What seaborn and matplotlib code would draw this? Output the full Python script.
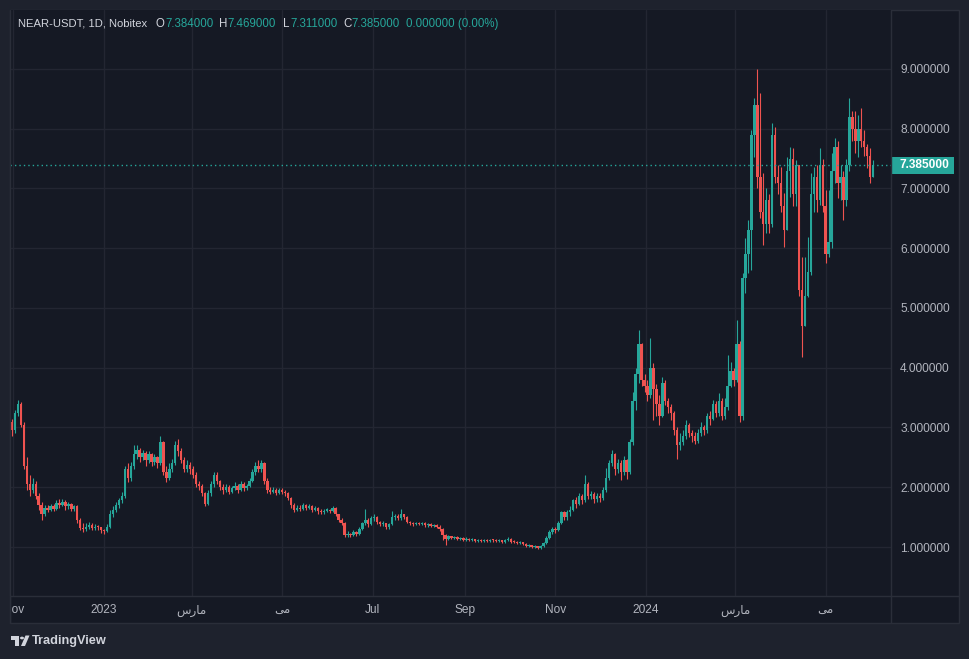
import numpy as np
import pandas as pd
import matplotlib
matplotlib.use("Agg")
import matplotlib.pyplot as plt
import matplotlib.dates as mdates
import matplotlib.transforms as mtrans
from matplotlib.patches import Rectangle, Circle, Polygon
from matplotlib.lines import Line2D
from matplotlib import font_manager
from matplotlib.ft2font import FT2Font
import seaborn as sns

# ---------------- data (2-day candles, NEAR-USDT) ----------------
start_date = "2022-10-29"
first_open = 3.15

closes = [
    3.10, 2.95, 3.25, 3.40, 3.05, 2.35, 2.05, 1.95, 2.05, 1.85,
    1.70, 1.55, 1.65, 1.62, 1.68, 1.64, 1.74, 1.70, 1.76, 1.68,
    1.72, 1.64, 1.68, 1.45, 1.32, 1.30, 1.34, 1.36, 1.32, 1.34, 1.33,
    1.28, 1.26, 1.34, 1.55, 1.62, 1.70, 1.78, 1.85, 2.30, 2.15,
    2.35, 2.55, 2.62, 2.50, 2.58, 2.45, 2.55, 2.42, 2.50, 2.40,
    2.75, 2.25, 2.15, 2.30, 2.40, 2.70, 2.60, 2.45, 2.30, 2.38,
    2.30, 2.20, 2.05, 2.02, 1.90, 1.72, 1.90, 2.05, 2.20, 2.10,
    2.00, 1.95, 2.00, 1.92, 1.98, 2.02, 1.95, 2.05, 1.98, 2.02,
    2.10, 2.25, 2.35, 2.30, 2.40, 2.10, 1.95, 1.92, 1.95, 1.90,
    1.95, 1.92, 1.90, 1.82, 1.70, 1.62, 1.66, 1.64, 1.70, 1.66,
    1.68, 1.62, 1.65, 1.60, 1.58, 1.61,
    1.62, 1.60, 1.66, 1.55, 1.45, 1.40, 1.20, 1.22, 1.20, 1.25,
    1.22, 1.30, 1.40, 1.45, 1.38, 1.48, 1.50, 1.42, 1.38, 1.40,
    1.33, 1.38, 1.50, 1.52, 1.48, 1.55, 1.50, 1.42, 1.40, 1.38,
    1.40, 1.38, 1.40, 1.36, 1.38, 1.35, 1.36, 1.34, 1.30, 1.20,
    1.14, 1.18, 1.15, 1.17, 1.13, 1.15, 1.12, 1.14, 1.12, 1.13,
    1.10, 1.12, 1.10, 1.12, 1.10, 1.12, 1.11,
    1.10, 1.11, 1.08, 1.12, 1.14, 1.09, 1.08, 1.07, 1.08, 1.05,
    1.02, 1.03, 1.00, 1.01, 0.98, 1.02, 1.06, 1.15, 1.25, 1.30,
    1.28, 1.40, 1.58, 1.50, 1.58, 1.62, 1.78, 1.72, 1.85, 1.78,
    2.05, 1.85, 1.88, 1.80, 1.85, 1.82, 1.95, 2.15, 2.40, 2.55,
    2.30, 2.40, 2.25, 2.45, 2.25, 2.75, 3.45, 3.90, 4.40, 3.80,
    3.70, 3.55, 4.00, 3.65, 3.40, 3.20, 3.75, 3.45, 3.35, 3.25,
    2.95, 2.70, 2.75, 2.85, 3.05, 2.90, 2.85, 2.78, 2.90, 3.00,
    2.95, 3.20, 3.15, 3.40, 3.25, 3.45, 3.20, 3.35, 3.70, 3.95,
    3.80, 4.40, 3.20, 5.50, 5.90, 6.30, 7.90, 8.40, 7.20, 6.60,
    6.40, 6.80, 6.40, 7.90, 7.20, 7.10, 6.70, 6.30, 7.30, 7.50,
    6.90, 7.40, 5.30, 4.70, 5.20, 5.60, 6.90, 7.20, 6.80, 7.40,
    6.70, 5.90, 6.10, 7.30, 7.70, 7.10, 7.20, 6.80, 7.40, 8.20,
    8.00, 7.80, 8.00, 7.80, 7.70, 7.55, 7.20, 7.385,
]

highs = [
    3.20, 3.15, 3.30, 3.46, 3.42, 3.10, 2.50, 2.20, 2.15, 2.10,
    1.90, 1.75, 1.70, 1.70, 1.72, 1.72, 1.78, 1.80, 1.80, 1.78,
    1.76, 1.74, 1.70, 1.70, 1.48, 1.40, 1.40, 1.42, 1.40, 1.38, 1.37,
    1.34, 1.30, 1.38, 1.62, 1.68, 1.75, 1.82, 1.92, 2.35, 2.40,
    2.42, 2.70, 2.70, 2.65, 2.62, 2.60, 2.60, 2.58, 2.55, 2.52,
    2.86, 2.78, 2.35, 2.40, 2.48, 2.78, 2.80, 2.65, 2.50, 2.45,
    2.42, 2.35, 2.25, 2.10, 2.05, 1.92, 1.95, 2.10, 2.25, 2.25,
    2.12, 2.05, 2.06, 2.03, 2.02, 2.08, 2.05, 2.10, 2.08, 2.06,
    2.16, 2.30, 2.42, 2.45, 2.45, 2.42, 2.15, 2.00, 2.00, 1.98,
    1.99, 1.98, 1.95, 1.92, 1.84, 1.74, 1.70, 1.70, 1.74, 1.72,
    1.72, 1.70, 1.68, 1.67, 1.63, 1.64,
    1.65, 1.64, 1.68, 1.67, 1.56, 1.48, 1.42, 1.26, 1.24, 1.28,
    1.27, 1.33, 1.42, 1.64, 1.48, 1.52, 1.55, 1.52, 1.44, 1.43,
    1.41, 1.40, 1.60, 1.56, 1.55, 1.64, 1.56, 1.52, 1.44, 1.42,
    1.42, 1.42, 1.42, 1.42, 1.40, 1.40, 1.39, 1.38, 1.36, 1.32,
    1.22, 1.20, 1.19, 1.19, 1.18, 1.17, 1.16, 1.16, 1.15, 1.15,
    1.14, 1.14, 1.13, 1.14, 1.13, 1.14, 1.13,
    1.13, 1.13, 1.12, 1.14, 1.17, 1.15, 1.11, 1.10, 1.10, 1.09,
    1.06, 1.05, 1.04, 1.03, 1.02, 1.04, 1.09, 1.18, 1.28, 1.34,
    1.33, 1.44, 1.60, 1.60, 1.62, 1.68, 1.80, 1.84, 1.90, 1.88,
    2.20, 2.08, 1.94, 1.92, 1.90, 1.90, 2.00, 2.32, 2.45, 2.62,
    2.58, 2.48, 2.45, 2.52, 2.48, 2.80, 3.60, 4.00, 4.63, 4.42,
    3.90, 3.80, 4.50, 4.08, 3.72, 3.55, 3.85, 3.80, 3.50, 3.40,
    3.28, 3.00, 2.90, 2.95, 3.13, 3.08, 2.96, 2.92, 2.98, 3.10,
    3.05, 3.24, 3.28, 3.46, 3.44, 3.58, 3.50, 3.50, 4.21, 4.10,
    4.00, 4.80, 4.45, 5.58, 6.17, 6.47, 7.98, 8.51, 9.00, 8.60,
    7.26, 7.00, 6.90, 8.10, 8.03, 7.40, 7.36, 6.92, 7.53, 7.70,
    7.68, 7.48, 7.40, 5.85, 5.85, 6.18, 7.26, 7.36, 7.40, 7.68,
    7.50, 6.97, 6.97, 7.60, 7.85, 7.80, 7.40, 7.30, 7.50, 8.51,
    8.30, 8.30, 8.23, 8.35, 7.98, 7.75, 7.68, 7.469,
]

lows = [
    3.05, 2.85, 2.90, 3.20, 3.00, 2.30, 1.95, 1.85, 1.90, 1.80,
    1.62, 1.45, 1.52, 1.58, 1.60, 1.60, 1.62, 1.66, 1.68, 1.62,
    1.64, 1.60, 1.60, 1.40, 1.28, 1.25, 1.27, 1.30, 1.28, 1.28, 1.28,
    1.24, 1.22, 1.25, 1.32, 1.50, 1.58, 1.66, 1.74, 1.82, 2.08,
    2.10, 2.30, 2.48, 2.42, 2.45, 2.35, 2.40, 2.35, 2.38, 2.32,
    2.38, 2.20, 2.08, 2.12, 2.25, 2.38, 2.52, 2.40, 2.25, 2.26,
    2.22, 2.15, 2.00, 1.96, 1.85, 1.69, 1.70, 1.86, 2.00, 2.05,
    1.95, 1.88, 1.92, 1.88, 1.90, 1.95, 1.90, 1.93, 1.94, 1.95,
    2.00, 2.08, 2.20, 2.26, 2.25, 2.05, 1.90, 1.88, 1.90, 1.87,
    1.88, 1.88, 1.86, 1.78, 1.66, 1.58, 1.60, 1.60, 1.62, 1.62,
    1.63, 1.58, 1.60, 1.56, 1.55, 1.56,
    1.58, 1.57, 1.58, 1.52, 1.42, 1.36, 1.16, 1.17, 1.17, 1.18,
    1.19, 1.20, 1.28, 1.36, 1.34, 1.36, 1.44, 1.38, 1.35, 1.35,
    1.30, 1.30, 1.36, 1.46, 1.45, 1.46, 1.47, 1.40, 1.37, 1.35,
    1.36, 1.36, 1.36, 1.34, 1.34, 1.33, 1.33, 1.31, 1.27, 1.12,
    1.03, 1.12, 1.13, 1.14, 1.11, 1.11, 1.10, 1.10, 1.10, 1.10,
    1.08, 1.09, 1.08, 1.09, 1.08, 1.09, 1.09,
    1.08, 1.08, 1.06, 1.07, 1.10, 1.07, 1.06, 1.05, 1.05, 1.03,
    1.00, 1.00, 0.98, 0.98, 0.96, 0.97, 1.00, 1.05, 1.13, 1.22,
    1.24, 1.26, 1.38, 1.45, 1.46, 1.52, 1.60, 1.66, 1.70, 1.72,
    1.76, 1.80, 1.80, 1.74, 1.76, 1.76, 1.78, 1.92, 2.12, 2.35,
    2.20, 2.24, 2.12, 2.20, 2.14, 2.22, 2.70, 3.30, 3.75, 3.70,
    3.60, 3.45, 3.50, 3.13, 3.20, 3.04, 3.18, 3.38, 3.25, 3.12,
    2.88, 2.47, 2.62, 2.70, 2.80, 2.84, 2.75, 2.72, 2.74, 2.86,
    2.87, 2.90, 3.05, 3.12, 3.18, 3.20, 3.13, 3.15, 3.30, 3.68,
    3.70, 3.76, 3.10, 3.13, 5.25, 5.58, 5.63, 7.53, 7.00, 6.50,
    6.05, 6.25, 6.25, 6.35, 7.10, 6.90, 6.60, 6.02, 6.30, 6.86,
    6.70, 6.70, 5.20, 4.18, 4.80, 5.18, 5.55, 6.60, 6.60, 6.73,
    6.60, 5.75, 5.85, 6.00, 7.10, 6.84, 6.80, 6.47, 6.70, 7.30,
    7.80, 7.60, 7.53, 7.70, 7.55, 7.35, 7.10, 7.311,
]

tick_dates = ["2022-11-01", "2023-01-01", "2023-03-01", "2023-05-01", "2023-07-01",
              "2023-09-01", "2023-11-01", "2024-01-01", "2024-03-01", "2024-05-01"]
tick_labels = ["Nov", "2023", "مارس", "می", "Jul", "Sep", "Nov", "2024", "مارس", "می"]
price_ticks = [1, 2, 3, 4, 5, 6, 7, 8, 9]

symbol_title = "NEAR-USDT, 1D, Nobitex"
last_open, last_high, last_low, last_close = 7.384, 7.469, 7.311, 7.385
last_change, last_change_pct = 0.0, 0.0

# ---------------- style ----------------
OUTER = "#1e222d"
PANEL = "#151924"
GRID = "#232632"
BORDER = "#2a2e39"
TEXT = "#b2b5be"
HEAD = "#d1d4dc"
UP = "#26a69a"
DOWN = "#ef5350"

sns.set_theme(style="dark", rc={"axes.facecolor": PANEL, "figure.facecolor": OUTER})
plt.rcParams["font.family"] = ["Liberation Sans", "DejaVu Sans"]


def has_glyph(family, code):
    try:
        path = font_manager.findfont(family)
        return FT2Font(path).get_char_index(code) != 0
    except Exception:
        return False


# minimal Arabic-script shaping for matplotlib (which has no text shaper)
yeh_forms = ("\uFBFC", "\uFBFD", "\uFBFE", "\uFBFF")
if not has_glyph("DejaVu Sans", 0xFBFD):
    yeh_forms = ("\uFEEF", "\uFEF0", "\uFEF3", "\uFEF4")
FORMS = {
    "م": ("\uFEE1", "\uFEE2", "\uFEE3", "\uFEE4", True),
    "ا": ("\uFE8D", "\uFE8E", None, None, False),
    "ر": ("\uFEAD", "\uFEAE", None, None, False),
    "س": ("\uFEB1", "\uFEB2", "\uFEB3", "\uFEB4", True),
    "ی": yeh_forms + (True,),
}


def shape(s):
    if not any(ch in FORMS for ch in s):
        return s
    out = []
    for i, ch in enumerate(s):
        if ch not in FORMS:
            out.append(ch)
            continue
        iso, fin, ini, med, dual = FORMS[ch]
        jp = i > 0 and s[i - 1] in FORMS and FORMS[s[i - 1]][4]
        jn = dual and i + 1 < len(s) and s[i + 1] in FORMS
        if jp and jn:
            out.append(med)
        elif jp:
            out.append(fin)
        elif jn:
            out.append(ini)
        else:
            out.append(iso)
    return "".join(out[::-1])


W, H = 970, 659
fig = plt.figure(figsize=(W / 100, H / 100), dpi=100, facecolor=OUTER)


def fx(px):
    return px / W


def fy(py):
    return 1 - py / H


# panel background
fig.add_artist(Rectangle((fx(10), fy(623)), fx(959) - fx(10), fy(10) - fy(623),
                         transform=fig.transFigure, facecolor=PANEL, edgecolor=BORDER,
                         lw=1, zorder=-5))

ax = fig.add_axes([fx(10), fy(596), fx(891) - fx(10), fy(10) - fy(596)])
ax.set_facecolor(PANEL)

# candles
dates = pd.date_range(start_date, periods=len(closes), freq="2D")
xs = mdates.date2num(dates.to_pydatetime())
c = np.array(closes)
o = np.concatenate([[first_open], c[:-1]])
hi = np.maximum(np.array(highs), np.maximum(o, c))
lo = np.minimum(np.array(lows), np.minimum(o, c))
cols = np.where(c >= o, UP, DOWN)

ax.vlines(xs, lo, hi, colors=cols, lw=0.8, zorder=3)
body_h = np.maximum(np.abs(c - o), 0.018)
ax.bar(xs, body_h, bottom=np.minimum(o, c), width=1.6, color=cols, lw=0, zorder=4)

# last price dotted line
ax.axhline(last_close, color=UP, lw=1, ls=(0, (1, 2.2)), zorder=5)

# axes limits / ticks
ref = mdates.date2num(pd.Timestamp("2023-01-01").to_pydatetime())
ax.set_xlim(ref - 63.3, ref + 530.0)
ax.set_ylim(0.180, 9.987)

tick_x = mdates.date2num(pd.to_datetime(tick_dates).to_pydatetime())
ax.set_xticks(tick_x)
ax.set_xticklabels([shape(t) for t in tick_labels])
for lbl, raw in zip(ax.get_xticklabels(), tick_labels):
    if raw != shape(raw):
        lbl.set_fontfamily(["DejaVu Sans"])
        lbl.set_fontsize(8.2)
ax.yaxis.tick_right()
ax.set_yticks(price_ticks)
ax.set_yticklabels([f"{v:.6f}" for v in price_ticks])
ax.tick_params(axis="x", length=0, pad=5.5, colors=TEXT, labelsize=8.6)
ax.tick_params(axis="y", length=0, pad=6.6, colors=TEXT, labelsize=8.6)
ax.grid(True, color=GRID, lw=1)
ax.set_axisbelow(True)
for sp in ax.spines.values():
    sp.set_visible(False)

# last price label box on the price scale
bt = mtrans.blended_transform_factory(ax.transAxes, ax.transData)
half = 8.5 / 59.75
ax.add_patch(Rectangle((1.0, last_close - half), (954 - 891) / (891 - 10), 2 * half,
                       transform=bt, facecolor=UP, edgecolor="none", clip_on=False, zorder=6))
ax.text(1.0 + 9 / 881, last_close, f"{last_close:.6f}", transform=bt, ha="left", va="center",
        color="white", fontsize=8.6, fontweight="bold", clip_on=False, zorder=7)

# separators
fig.add_artist(Line2D([fx(891), fx(891)], [fy(10), fy(623)], color=BORDER, lw=1, zorder=6))
fig.add_artist(Line2D([fx(10), fx(959)], [fy(596), fy(596)], color=BORDER, lw=1, zorder=6))
# mask: panel edge cuts the first month label
fig.add_artist(Rectangle((0, fy(623)), fx(10), fy(596) - fy(623), transform=fig.transFigure,
                         facecolor=OUTER, edgecolor="none", zorder=8))
fig.add_artist(Line2D([fx(10), fx(10)], [fy(10), fy(623)], color=BORDER, lw=1, zorder=9))

# header legend: each group starts where the reference shows it; a value follows its letter
renderer = fig.canvas.get_renderer()
fig.text(fx(18), fy(24), symbol_title, color=HEAD, fontsize=8.1, ha="left", va="center")
groups = [
    ("O", f"{last_open:.6f}", 156),
    ("H", f"{last_high:.6f}", 219),
    ("L", f"{last_low:.6f}", 283),
    ("C", f"{last_close:.6f}", 343),
    ("", f"{last_change:.6f} ({last_change_pct:.2f}%)", 406),
]
for letter, val, px in groups:
    x_next = px
    if letter:
        t = fig.text(fx(px), fy(24), letter, color=HEAD, fontsize=8.3, ha="left", va="center")
        x_next = t.get_window_extent(renderer).x1 + 0.5
    fig.text(x_next / W, fy(24), val, color=UP, fontsize=8.3, ha="left", va="center")

# TradingView logo
LOGO = "#d1d4dc"
fig.add_artist(Rectangle((fx(11), fy(640)), fx(8), fy(636) - fy(640), transform=fig.transFigure,
                         facecolor=LOGO, edgecolor="none"))
fig.add_artist(Rectangle((fx(15), fy(646)), fx(4), fy(636) - fy(646), transform=fig.transFigure,
                         facecolor=LOGO, edgecolor="none"))
fig.add_artist(Circle((fx(22), fy(638)), 2.0 / W, transform=fig.transFigure,
                      facecolor=LOGO, edgecolor="none"))
fig.add_artist(Polygon([(fx(21), fy(646)), (fx(25.5), fy(635.5)), (fx(29.5), fy(635.5)),
                        (fx(25), fy(646))], closed=True, transform=fig.transFigure,
                       facecolor=LOGO, edgecolor="none"))
fig.text(fx(32), fy(641), "TradingView", color=LOGO, fontsize=9.2, ha="left", va="center",
         fontweight="bold")

fig.savefig("out.png", dpi=100, facecolor=OUTER)
